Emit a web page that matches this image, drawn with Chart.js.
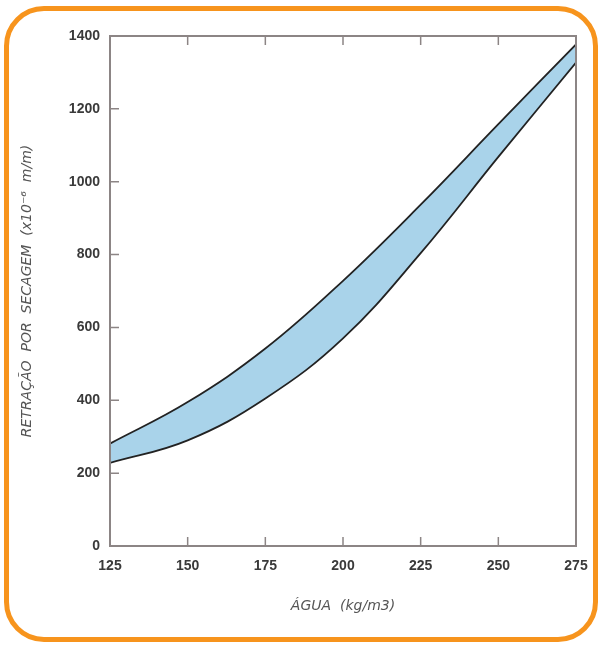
<!DOCTYPE html>
<html>
<head>
<meta charset="utf-8">
<script src="https://cdn.jsdelivr.net/npm/chart.js@4.4.0/dist/chart.umd.min.js"></script>
<style>
  html, body { margin: 0; padding: 0; background: #fff; }
  #wrap { position: relative; width: 600px; height: 646px; }
  #frame {
    position: absolute; left: 4px; top: 6px; width: 584px; height: 626px;
    border: 5px solid #f7941d; border-radius: 40px;
  }
  canvas { position: absolute; left: 0; top: 0; }
</style>
</head>
<body>
<div id="wrap">
  <div id="frame"></div>
  <canvas id="chart" width="600" height="646"></canvas>
</div>
<script>
// valores
const agua = [125, 150, 175, 200, 225, 250, 275];
const limiteSuperior = [281, 395, 542, 728, 937, 1158, 1377];
const limiteInferior = [228, 290, 405, 570, 804, 1068, 1327];
const yTicks = [0, 200, 400, 600, 800, 1000, 1200, 1400];
const xTicks = [125, 150, 175, 200, 225, 250, 275];

const toPoints = (arr) => agua.map((x, i) => ({ x: x, y: arr[i] }));

// marcas para dentro nos eixos + moldura do gráfico
const axisBox = {
  id: 'axisBox',
  afterDraw(chart) {
    const c = chart.ctx;
    const a = chart.chartArea;
    const xs = chart.scales.x, ys = chart.scales.y;
    c.save();
    c.strokeStyle = '#8c8585';
    c.lineWidth = 2;
    c.strokeRect(a.left, a.top, a.right - a.left, a.bottom - a.top);
    c.lineWidth = 1.5;
    c.beginPath();
    xTicks.slice(1, -1).forEach(v => {
      const px = xs.getPixelForValue(v);
      c.moveTo(px, a.bottom); c.lineTo(px, a.bottom - 9);
      c.moveTo(px, a.top); c.lineTo(px, a.top + 9);
    });
    yTicks.slice(1, -1).forEach(v => {
      const py = ys.getPixelForValue(v);
      c.moveTo(a.left, py); c.lineTo(a.left + 9, py);
    });
    c.stroke();
    c.restore();
  }
};

const tickFont = { family: 'Liberation Sans', size: 14, weight: 'bold' };
const titleFont = { family: 'DejaVu Sans', size: 14, style: 'italic' };

new Chart(document.getElementById('chart'), {
  type: 'line',
  data: {
    datasets: [
      {
        label: 'superior',
        data: toPoints(limiteSuperior),
        borderColor: '#222',
        borderWidth: 1.8,
        backgroundColor: '#a9d3ea',
        fill: '+1',
        pointRadius: 0,
        tension: 0.4
      },
      {
        label: 'inferior',
        data: toPoints(limiteInferior),
        borderColor: '#222',
        borderWidth: 1.8,
        fill: false,
        pointRadius: 0,
        tension: 0.4
      }
    ]
  },
  options: {
    responsive: false,
    animation: false,
    layout: { padding: { left: 0, top: 36, right: 24, bottom: 0 } },
    plugins: {
      legend: { display: false },
      tooltip: { enabled: false },
      filler: { drawTime: 'beforeDatasetsDraw' }
    },
    scales: {
      x: {
        type: 'linear',
        min: 125, max: 275,
        afterFit(s) { s.height = 100; },
        afterBuildTicks(s) { s.ticks = xTicks.map(v => ({ value: v })); },
        grid: { display: false, drawTicks: false },
        border: { display: false },
        ticks: { font: tickFont, color: '#3a3a3a', padding: 12, callback: v => String(v) },
        title: {
          display: true, text: 'ÁGUA  (kg/m3)',
          font: titleFont, color: '#555',
          padding: { top: 0, bottom: 31 }
        }
      },
      y: {
        min: 0, max: 1400,
        afterFit(s) { s.width = 110; },
        afterBuildTicks(s) { s.ticks = yTicks.map(v => ({ value: v })); },
        grid: { display: false, drawTicks: false },
        border: { display: false },
        ticks: { font: tickFont, color: '#3a3a3a', padding: 10, callback: v => String(v) },
        title: {
          display: true, text: 'RETRAÇÃO  POR  SECAGEM  (x10⁻⁶  m/m)',
          font: titleFont, color: '#555',
          padding: { top: 19, bottom: 0 }
        }
      }
    }
  },
  plugins: [axisBox]
});
</script>
</body>
</html>
